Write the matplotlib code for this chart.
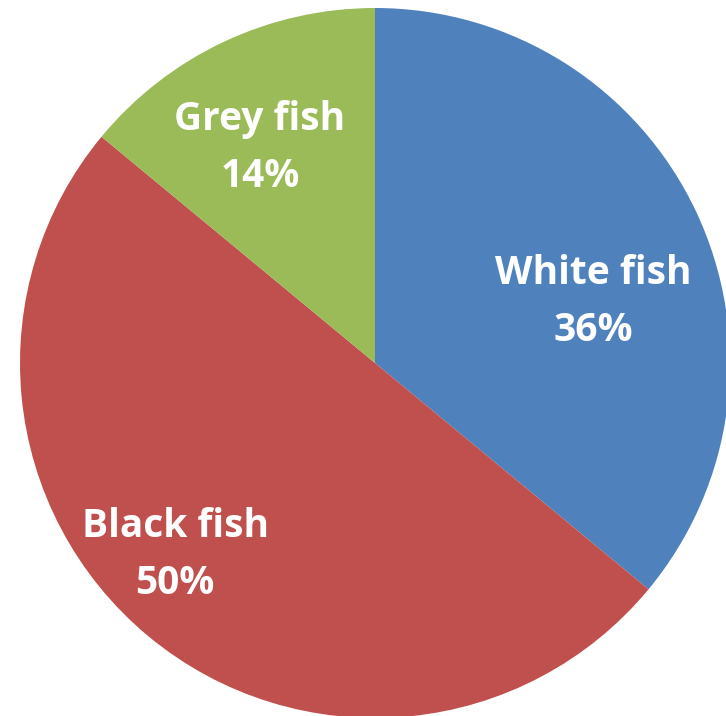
import matplotlib
matplotlib.use("Agg")
import matplotlib.pyplot as plt

categories = ["White fish", "Black fish", "Grey fish"]
shares = [36, 50, 14]
colors = ["#4F81BD", "#C0504D", "#9BBB59"]

# label anchor points in figure-pixel space (x right, y down)
label_pos = [(593, 302), (175, 555), (260, 148)]

W, H = 726, 716
fig = plt.figure(figsize=(W / 100, H / 100), dpi=100)
ax = fig.add_axes([0, 0, 1, 1])

cx, cy, r = 375, H - 363, 355
ax.pie(shares, colors=colors, startangle=90, counterclock=False,
       center=(cx, cy), radius=r, frame=True,
       wedgeprops=dict(linewidth=0))
ax.set_xlim(0, W)
ax.set_ylim(0, H)
ax.set_aspect("equal")
ax.axis("off")

for name, val, (px, py) in zip(categories, shares, label_pos):
    ax.text(px, H - py, f"{name}\n{val}%", ha="center", va="center",
            color="white", fontsize=28, fontweight="bold",
            family="Open Sans", linespacing=1.6)

fig.savefig("out.png", dpi=100)
